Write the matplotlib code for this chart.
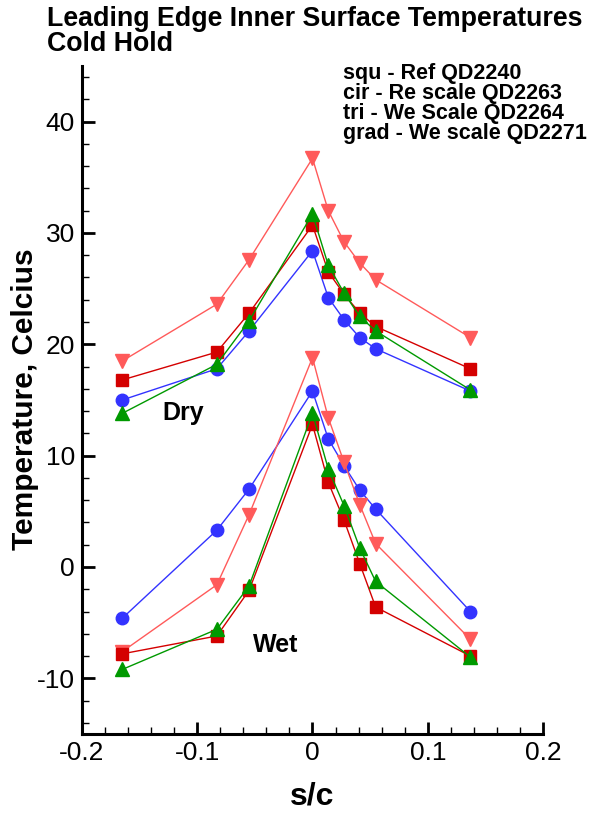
import numpy as np
import matplotlib
matplotlib.use('Agg')
import matplotlib.pyplot as plt
from matplotlib.ticker import MultipleLocator

plt.rcParams['font.family'] = ['Liberation Sans', 'DejaVu Sans']

# s/c stations
s_c = [-0.165, -0.083, -0.055, 0.0, 0.0137, 0.0274, 0.041, 0.0548, 0.137]

# dry runs
dry_ref = [16.8, 19.3, 22.8, 30.7, 26.5, 24.5, 22.8, 21.6, 17.8]
dry_re = [15.0, 17.8, 21.2, 28.4, 24.2, 22.2, 20.6, 19.6, 15.8]
dry_we = [13.8, 18.2, 22.1, 31.7, 27.1, 24.6, 22.5, 21.2, 15.9]
dry_grad = [18.5, 23.6, 27.6, 36.7, 32.0, 29.2, 27.3, 25.8, 20.6]

# wet runs
wet_ref = [-7.8, -6.2, -2.1, 12.8, 7.6, 4.2, 0.3, -3.6, -8.0]
wet_re = [-4.6, 3.3, 7.0, 15.8, 11.5, 9.1, 6.9, 5.2, -4.0]
wet_we = [-9.2, -5.6, -1.7, 13.8, 8.8, 5.5, 1.7, -1.3, -8.1]
wet_grad = [-7.6, -1.6, 4.7, 18.8, 13.4, 9.4, 5.6, 2.1, -6.5]

legend_lines = ['squ - Ref QD2240', 'cir - Re scale QD2263',
                'tri - We Scale QD2264', 'grad - We scale QD2271']

red = '#d40000'
blue = '#3333ff'
green = '#009900'
pink = '#ff5a5a'

fig = plt.figure(figsize=(5.91, 8.14), dpi=100)
ax = fig.add_axes([0.1387, 0.0983, 0.7801, 0.8207])

for dry, wet, col, mk, ms in [(dry_re, wet_re, blue, 'o', 9),
                              (dry_grad, wet_grad, pink, 'v', 10.5),
                              (dry_ref, wet_ref, red, 's', 8.5),
                              (dry_we, wet_we, green, '^', 10.5)]:
    for ys in (dry, wet):
        ax.plot(s_c, ys, color=col, lw=1.0, marker=mk, ms=ms,
                markeredgecolor=col, markerfacecolor=col)

ax.set_xlim(-0.2, 0.2)
ax.set_ylim(-15, 45)
ax.xaxis.set_minor_locator(MultipleLocator(0.02))
ax.yaxis.set_minor_locator(MultipleLocator(2))
ax.set_xticks([-0.2, -0.1, 0, 0.1, 0.2])
ax.set_xticklabels(['-0.2', '-0.1', '0', '0.1', '0.2'])
ax.set_yticks([-10, 0, 10, 20, 30, 40])
ax.set_yticklabels(['-10', '0', '10', '20', '30', '40'])

for side in ['top', 'right']:
    ax.spines[side].set_visible(False)
for side in ['left', 'bottom']:
    ax.spines[side].set_linewidth(2.2)

ax.tick_params(which='major', direction='in', length=9, width=2, labelsize=19, pad=5)
ax.tick_params(which='minor', direction='in', length=5, width=1)

ax.set_xlabel('s/c', fontsize=23, fontweight='bold', labelpad=12)
fig.text(25 / 591, 1 - 399 / 814, 'Temperature, Celcius', fontsize=21.5,
         fontweight='bold', rotation=90, ha='center', va='center')

ax.text(-0.112, 13.8, 'Dry', fontsize=18, fontweight='bold', ha='center', va='center')
ax.text(-0.032, -7.0, 'Wet', fontsize=18, fontweight='bold', ha='center', va='center')

fig.text(0.08, 0.993, 'Leading Edge Inner Surface Temperatures\nCold Hold',
         fontsize=19.3, fontweight='bold', ha='left', va='top', linespacing=0.98)
fig.text(0.58, 0.922, '\n'.join(legend_lines), fontsize=15.5, fontweight='bold',
         ha='left', va='top', linespacing=0.93)

fig.savefig('out.png', dpi=100)
